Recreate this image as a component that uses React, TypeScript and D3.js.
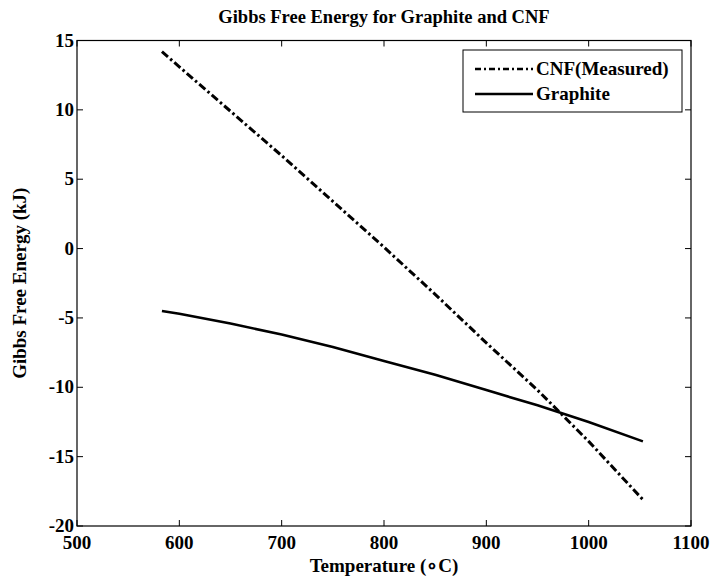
import React from "react";
import * as d3 from "d3";

const cnfTemps = [583, 600, 650, 700, 750, 800, 850, 900, 950, 1000, 1053];
const cnfValues = [14.2, 13.1, 9.9, 6.7, 3.4, 0.1, -3.3, -6.8, -10.2, -13.9, -18.1];
const graphiteTemps = [583, 600, 650, 700, 750, 800, 850, 900, 950, 1000, 1053];
const graphiteValues = [-4.5, -4.7, -5.4, -6.2, -7.1, -8.1, -9.1, -10.2, -11.3, -12.5, -13.9];
const xTicks = [500, 600, 700, 800, 900, 1000, 1100];
const yTicks = [15, 10, 5, 0, -5, -10, -15, -20];
const seriesNames = ["CNF(Measured)", "Graphite"];

const W = 714, H = 580;
const M = { left: 77, right: 691, top: 40.5, bottom: 526 };
const FONT = '"Liberation Serif", "Times New Roman", Tinos, serif';

export default function App() {
  const x = d3.scaleLinear().domain([500, 1100]).range([M.left, M.right]);
  const y = d3.scaleLinear().domain([-20, 15]).range([M.bottom, M.top]);
  const line = d3.line<[number, number]>().x(d => x(d[0])).y(d => y(d[1]));
  const cnf = line(cnfTemps.map((t, i) => [t, cnfValues[i]] as [number, number])) || "";
  const gr = line(graphiteTemps.map((t, i) => [t, graphiteValues[i]] as [number, number])) || "";
  const tl = 6;
  const lg = { x: 463, y: 50, w: 219, h: 62 };
  const ts: React.CSSProperties = { fontFamily: FONT, fontWeight: 700 };
  return (
    <svg width={W} height={H} style={{ position: "absolute", left: 0, top: 0, background: "#fff" }}>
      <rect x={0} y={0} width={W} height={H} fill="#fff" />
      <text x={(M.left + M.right) / 2} y={23} textAnchor="middle" fontSize={18.5} style={ts}>Gibbs Free Energy for Graphite and CNF</text>
      <rect x={M.left} y={M.top} width={M.right - M.left} height={M.bottom - M.top} fill="none" stroke="#000" strokeWidth={1.2} />
      {xTicks.map(t => (
        <g key={"x" + t}>
          <line x1={x(t)} x2={x(t)} y1={M.bottom} y2={M.bottom - tl} stroke="#000" />
          <line x1={x(t)} x2={x(t)} y1={M.top} y2={M.top + tl} stroke="#000" />
          <text x={x(t)} y={M.bottom + 23} textAnchor="middle" fontSize={19} style={ts}>{t}</text>
        </g>
      ))}
      {yTicks.map(t => (
        <g key={"y" + t}>
          <line x1={M.left} x2={M.left + tl} y1={y(t)} y2={y(t)} stroke="#000" />
          <line x1={M.right} x2={M.right - tl} y1={y(t)} y2={y(t)} stroke="#000" />
          <text x={M.left - 3} y={y(t) + 6} textAnchor="end" fontSize={19} style={ts}>{t}</text>
        </g>
      ))}
      <text x={(M.left + M.right) / 2} y={572} textAnchor="middle" fontSize={19} style={ts}>Temperature (∘C)</text>
      <text transform={`translate(26,${(M.top + M.bottom) / 2}) rotate(-90)`} textAnchor="middle" fontSize={19} style={ts}>Gibbs Free Energy (kJ)</text>
      <path d={cnf} fill="none" stroke="#000" strokeWidth={3} strokeDasharray="8,3,2.5,3" />
      <path d={gr} fill="none" stroke="#000" strokeWidth={2.6} />
      <rect x={lg.x} y={lg.y} width={lg.w} height={lg.h} fill="#fff" stroke="#000" strokeWidth={1} />
      <line x1={lg.x + 12} x2={lg.x + 70} y1={lg.y + 19} y2={lg.y + 19} stroke="#000" strokeWidth={2.5} strokeDasharray="6,3,2,3" />
      <text x={lg.x + 73} y={lg.y + 25} fontSize={19} style={ts}>{seriesNames[0]}</text>
      <line x1={lg.x + 12} x2={lg.x + 70} y1={lg.y + 44} y2={lg.y + 44} stroke="#000" strokeWidth={2.5} />
      <text x={lg.x + 73} y={lg.y + 50} fontSize={19} style={ts}>{seriesNames[1]}</text>
    </svg>
  );
}
